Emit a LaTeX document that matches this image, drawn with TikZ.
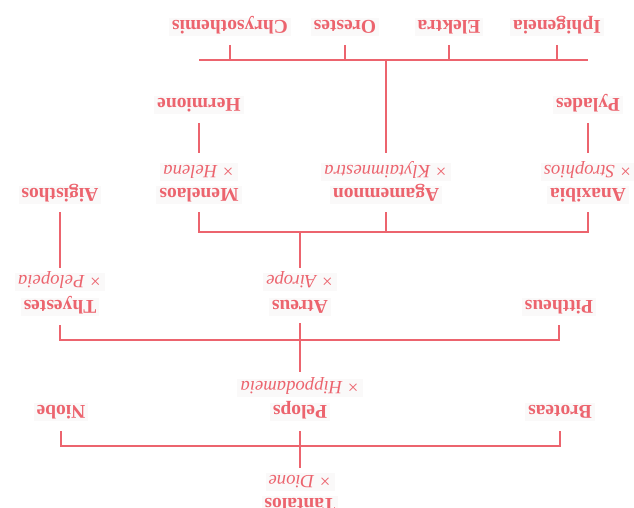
\documentclass[tikz,border=0pt]{standalone}
\usepackage{fontspec}
\setmainfont{Liberation Serif}
\usetikzlibrary{calc}
\definecolor{tc}{RGB}{236,100,110}
\definecolor{bg}{RGB}{250,249,249}
\begin{document}
\begin{tikzpicture}[x=1pt,y=-1pt,
  base/.style={rotate=180, text=tc, fill=bg, inner xsep=3pt, inner ysep=3pt, text depth=0pt},
  nm/.style={base, font=\bfseries\fontsize{19.5}{21}\selectfont, text height=12.9pt},
  sp/.style={base, font=\itshape\fontsize{18.7}{20}\selectfont, text height=12.4pt},
  ln/.style={draw=tc, line width=1.3pt}]
\useasboundingbox (0,0) rectangle (634,508);
% generation 5
\node[nm] (chryso) at (230,27) {Chrysothemis};
\node[nm] (orestes) at (345,27) {Orestes};
\node[nm] (elektra) at (449,27) {Elektra};
\node[nm] (iphi) at (557,27) {Iphigeneia};
\node[nm] (hermione) at (199,105) {Hermione};
\node[nm] (pylades) at (588,105) {Pylades};
% generation 4
\node[sp] (helena) at (199,172) {× Helena};
\node[nm] (menelaos) at (199,195) {Menelaos};
\node[sp] (klyt) at (386,172) {× Klytaimnestra};
\node[nm] (agam) at (386,195) {Agamemnon};
\node[sp] (stroph) at (588,172) {× Strophios};
\node[nm] (anax) at (588,195) {Anaxibia};
\node[nm] (aigis) at (60,195) {Aigisthos};
% generation 3
\node[sp] (pelopeia) at (60,282) {× Pelopeia};
\node[nm] (thyestes) at (60,307) {Thyestes};
\node[sp] (airope) at (300,282) {× Airope};
\node[nm] (atreus) at (300,307) {Atreus};
\node[nm] (pittheus) at (559,307) {Pittheus};
% generation 2
\node[sp] (hippo) at (300,388) {× Hippodameia};
\node[nm] (pelops) at (300,412) {Pelops};
\node[nm] (niobe) at (61,412) {Niobe};
\node[nm] (broteas) at (560,412) {Broteas};
% generation 1
\node[sp] (dione) at (300,482) {× Dione};
\node[nm] (tantalos) at (300,505) {Tantalos};
% connectors
\coordinate (topL) at (199,60);
\coordinate (topR) at (588,60);
\draw[ln] (topL) -- (topR);
\foreach \c in {chryso,orestes,elektra,iphi}
  \draw[ln] ($(\c)+(0,18)$) -- (\c |- topL);
\draw[ln] (agam |- topL) -- ($(klyt)+(0,-19)$);
\draw[ln] ($(hermione)+(0,18)$) -- ($(helena)+(0,-19)$);
\draw[ln] ($(pylades)+(0,18)$) -- ($(stroph)+(0,-19)$);
\coordinate (b3) at (300,232);
\draw[ln] ($(menelaos)+(0,17)$) -- (menelaos |- b3) -- (anax |- b3) -- ($(anax)+(0,17)$);
\draw[ln] ($(agam)+(0,17)$) -- (agam |- b3);
\draw[ln] (b3) -- ($(airope)+(0,-14)$);
\draw[ln] ($(aigis)+(0,17)$) -- ($(pelopeia)+(0,-14)$);
\coordinate (b4) at (300,340);
\draw[ln] ($(thyestes)+(0,18)$) -- (thyestes |- b4) -- (pittheus |- b4) -- ($(pittheus)+(0,18)$);
\draw[ln] ($(atreus)+(0,16)$) -- ($(hippo)+(0,-16)$);
\coordinate (b5) at (300,446);
\draw[ln] ($(niobe)+(0,19)$) -- (niobe |- b5) -- (broteas |- b5) -- ($(broteas)+(0,19)$);
\draw[ln] ($(pelops)+(0,19)$) -- ($(dione)+(0,-14)$);
\end{tikzpicture}
\end{document}
